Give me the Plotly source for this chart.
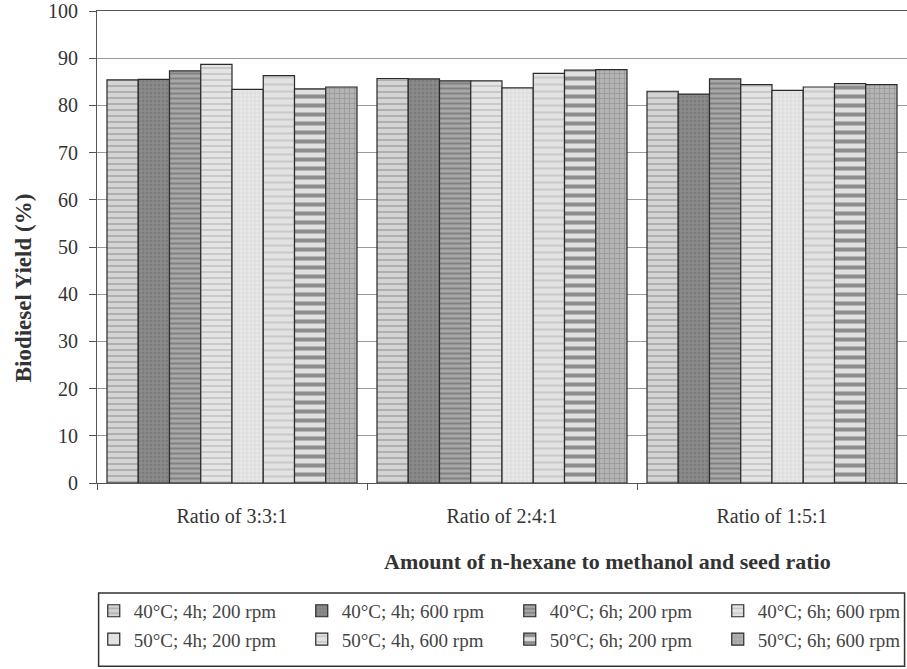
import plotly.graph_objects as go

# Categories: n-hexane : methanol : seed ratio
categories = ["Ratio of 3:3:1", "Ratio of 2:4:1", "Ratio of 1:5:1"]

# Reaction conditions (one series each)
series_names = [
    "40°C; 4h; 200 rpm",
    "40°C; 4h; 600 rpm",
    "40°C; 6h; 200 rpm",
    "40°C; 6h; 600 rpm",
    "50°C; 4h; 200 rpm",
    "50°C; 4h, 600 rpm",
    "50°C; 6h; 200 rpm",
    "50°C; 6h; 600 rpm",
]

# Biodiesel yield (%) per condition, across the three ratios
y_40_4h_200 = [85.4, 85.7, 83.0]
y_40_4h_600 = [85.5, 85.6, 82.4]
y_40_6h_200 = [87.3, 85.2, 85.6]
y_40_6h_600 = [88.7, 85.2, 84.4]
y_50_4h_200 = [83.4, 83.7, 83.2]
y_50_4h_600 = [86.3, 86.8, 83.9]
y_50_6h_200 = [83.5, 87.5, 84.6]
y_50_6h_600 = [83.9, 87.6, 84.4]

series_values = [y_40_4h_200, y_40_4h_600, y_40_6h_200, y_40_6h_600,
                 y_50_4h_200, y_50_4h_600, y_50_6h_200, y_50_6h_600]

# Greyscale fills with hatch patterns (bg colour, fg colour, shape, size, solidity)
styles = [
    ("#d4d4d4", "#8a8a8a", "-", 6, 0.35),
    ("#8c8c8c", "#6a6a6a", ".", 4, 0.4),
    ("#a8a8a8", "#5a5a5a", "-", 5, 0.4),
    ("#e4e4e4", "#a8a8a8", "-", 6, 0.3),
    ("#e8e8e8", "#c4c4c4", "+", 4, 0.3),
    ("#e2e2e2", "#b0b0b0", "-", 7, 0.3),
    ("#e0e0e0", "#3a3a3a", "-", 9, 0.45),
    ("#b4b4b4", "#7a7a7a", "+", 5, 0.3),
]

fig = go.Figure()
for i, (name, vals, (bg, fg, shape, size, sol)) in enumerate(
        zip(series_names, series_values, styles)):
    fig.add_trace(go.Bar(
        name=name,
        x=categories,
        y=vals,
        legend="legend" if i < 4 else "legend2",
        marker=dict(
            color=bg,
            line=dict(color="#2a2a2a", width=1.2),
            pattern=dict(shape=shape, fgcolor=fg, bgcolor=bg, size=size,
                         solidity=sol, fillmode="overlay"),
        ),
    ))

serif = '"Liberation Serif", "Times New Roman", Times, serif'
legend_font = dict(family=serif, size=19, color="#444444")
legend_common = dict(
    orientation="h", x=-0.004, xanchor="left", yanchor="middle",
    entrywidth=163, entrywidthmode="pixels",
    borderwidth=0, bgcolor="rgba(0,0,0,0)",
    font=legend_font, traceorder="normal",
)

fig.update_layout(
    barmode="group",
    bargap=0.074,
    bargroupgap=0.0,
    width=907,
    height=669,
    paper_bgcolor="white",
    plot_bgcolor="white",
    margin=dict(l=97, r=0, t=11, b=186, autoexpand=False),
    font=dict(family=serif, color="#333333", size=20),
    showlegend=True,
    legend=dict(legend_common, y=-0.271),
    legend2=dict(legend_common, y=-0.331),
    xaxis=dict(
        showline=True, linecolor="#555555", linewidth=1.2, mirror=True,
        ticks="outside", tickson="boundaries", ticklen=6, tickcolor="#555555",
        tickfont=dict(family=serif, size=20, color="#333333"),
        ticklabelstandoff=15,
        showgrid=False,
    ),
    yaxis=dict(
        range=[0, 100],
        dtick=10,
        showline=True, linecolor="#555555", linewidth=1.2, mirror=True,
        ticks="outside", ticklen=7, tickcolor="#555555",
        tickfont=dict(family=serif, size=20, color="#333333"),
        ticklabelstandoff=7,
        showgrid=True, gridcolor="#9a9a9a", gridwidth=1,
        zeroline=False,
    ),
    shapes=[
        # frame around the two legend rows
        dict(type="rect", xref="paper", yref="paper",
             x0=0.002, x1=0.997, y0=-0.388, y1=-0.233,
             line=dict(color="#333333", width=1.5), fillcolor="rgba(0,0,0,0)"),
    ],
    annotations=[
        dict(text="<b>Amount of n-hexane to methanol and seed ratio</b>",
             xref="paper", yref="paper", x=0.630, y=-0.167,
             xanchor="center", yanchor="middle", showarrow=False,
             font=dict(family=serif, size=22, color="#333333")),
        dict(text="<b>Biodiesel Yield (%)</b>",
             xref="paper", yref="paper", x=-0.091, y=0.413,
             xanchor="center", yanchor="middle", textangle=-90, showarrow=False,
             font=dict(family=serif, size=23, color="#333333")),
    ],
)

fig.write_html("out.html")
